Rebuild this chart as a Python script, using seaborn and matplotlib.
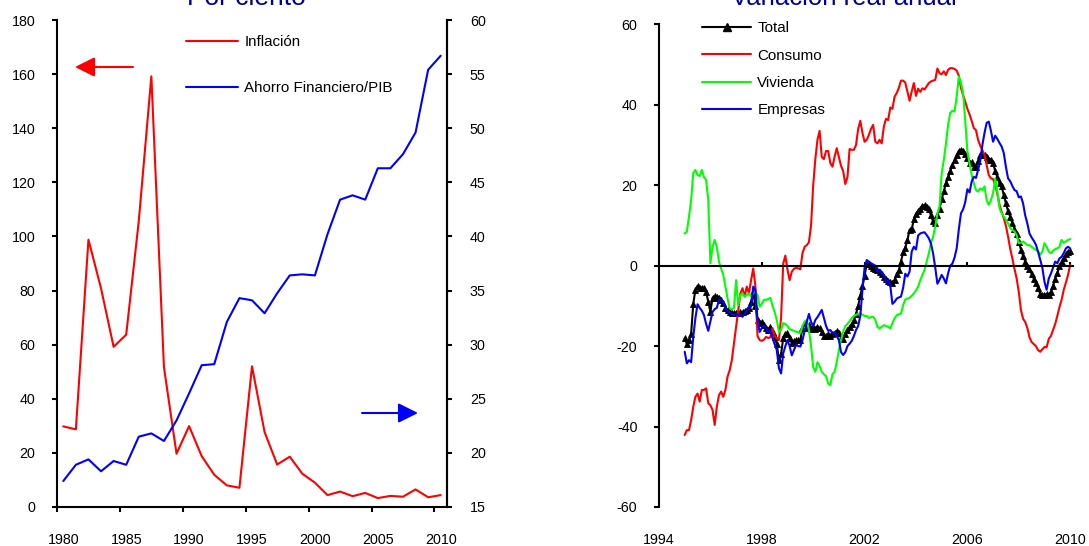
import numpy as np
import pandas as pd
import matplotlib
matplotlib.use("Agg")
import matplotlib.pyplot as plt
from matplotlib.lines import Line2D
from matplotlib.patches import ArrowStyle
import seaborn as sns

# ---------------- data: left panel (annual) ----------------
years = list(range(1980, 2011))
inflacion = [29.8, 28.7, 98.8, 80.8, 59.2, 63.7, 105.7, 159.2, 51.7, 19.7,
             29.9, 18.8, 11.9, 8.0, 7.1, 52.0, 27.7, 15.7, 18.6, 12.3,
             9.0, 4.4, 5.7, 4.0, 5.2, 3.3, 4.1, 3.8, 6.5, 3.6, 4.4]
ahorro_pib = [17.4, 18.9, 19.4, 18.3, 19.25, 18.9, 21.5, 21.8, 21.1, 23.0,
              25.5, 28.1, 28.2, 32.1, 34.3, 34.1, 32.9, 34.75, 36.4, 36.5,
              36.4, 40.2, 43.4, 43.8, 43.4, 46.3, 46.3, 47.6, 49.6, 55.4, 56.7]

# ---------------- data: right panel (monthly, Jan 1995 - Jan 2010) ----------------
start_year = 1995
total = [
    -18, -19.5, -18.5, -17, -9.5, -6, -5, -5.5, -5.5, -5.5, -6.5, -9,
    -11.5, -8, -7.5, -7.7, -8, -8.5, -9.4, -10.5, -11, -11.5, -11.8, -11.8,
    -11.8, -11.8, -11.5, -11.5, -11.3, -11, -10.5, -9, -6.5, -10, -13.5, -14.3,
    -14, -14.8, -15.5, -16, -15.2, -16.5, -17.7, -19.5, -23.5, -22, -18, -17,
    -16.8, -18, -19.3, -18.8, -18.5, -18.5, -18.5, -15.5, -14.3, -15.5, -14.8, -15.8,
    -15.3, -15.8, -15.2, -15.5, -16.5, -17.5, -17.5, -17, -17.5, -17, -16.8, -16.3,
    -16.8, -18, -18.2, -17, -16, -15.2, -14.5, -13.5, -12, -10, -7.5, -5,
    -2.5, 0.5, 0.3, 0, -0.5, -0.8, -1.1, -1.6, -2.2, -2.7, -3.2, -3.8,
    -4, -4.3, -3.5, -2, -1.2, 1, 3.3, 4.5, 6.4, 8.9, 9, 11.5,
    12.8, 13.5, 14.2, 14.9, 15, 14.5, 14, 12.5, 11, 10.5, 12.5, 14.2,
    16.5, 18.5, 20.5, 22, 23.5, 25, 26.3, 27.5, 28.5, 28.8, 28.5, 27.8,
    26.8, 25.5, 25.8, 24.5, 24.5, 26, 27.5, 28, 27.5, 27, 26.3, 26.3,
    25.5, 23.5, 22, 20.5, 19.7, 17.5, 15.5, 13.5, 12.2, 10.5, 9.2, 7.8,
    6, 4, 2.5, 1, 0, -0.9, -2, -3.2, -4.2, -5.5, -7, -7.3,
    -7.3, -7, -7.3, -6.5, -5, -3.2, -1.8, -0.2, 1, 2, 2.8, 3.5,
    3.7]
consumo = [
    -42.1, -40.9, -40.9, -38.4, -35.1, -32.6, -31.8, -33.8, -30.9, -30.9, -30.5, -34.2,
    -34.7, -35.9, -39.6, -35.1, -32.2, -31.3, -32.6, -30.9, -27.6, -26, -23.5, -19.3,
    -15.2, -11, -6.9, -5.6, -7.7, -5.2, -6.9, -3.6, -0.7, -5, -17.5, -18.5,
    -18.7, -18.4, -17.7, -18, -17.8, -15.5, -17.5, -18, -18.5, -13, 0.5, 2.5,
    -1, -3.6, -1.5, -0.8, -0.5, -0.7, -0.9, 3.1, 4.7, 5.1, 5.8, 10,
    20, 26.5, 31.3, 33.5, 27, 26.5, 28.5, 28.5, 25.5, 24.6, 27.1, 29.2,
    27, 24.8, 23.5, 20.3, 22, 29, 28.8, 28.8, 30, 34, 36, 33,
    30.8, 31.3, 32.5, 34, 35, 30.8, 30.4, 31.3, 30.4, 34.6, 36.5, 36.2,
    39.3, 39, 42, 42.9, 44.2, 46, 46, 45.5, 43.3, 41, 43.3, 45.4,
    42.2, 44, 43.2, 44.1, 43.8, 44.6, 45.4, 45.8, 46, 46.2, 49, 47.8,
    47.6, 48.3, 47.4, 48.7, 49.1, 49.1, 48.9, 48.5, 47.2, 44.2, 42.4, 40.8,
    39, 37.6, 36, 34.2, 33.7, 31.3, 29.8, 28.7, 27.5, 25, 22.5, 21.7,
    21.5, 20, 17.8, 15.2, 13.4, 11.8, 9.9, 7.2, 4.2, 1.8, -0.8, -3.2,
    -6.5, -11, -13.2, -14, -15.5, -17.8, -19, -19.5, -20, -21, -21.4, -20.8,
    -20.2, -20.3, -18.2, -17.5, -16, -14.5, -12.5, -10.3, -8.5, -6, -4.2, -2.3,
    0.2]
vivienda = [
    8.0, 8.5, 12.2, 16.3, 23, 23.8, 22.5, 22.3, 23.8, 22, 21.3, 16.3,
    0.6, 4.7, 6.4, 4.7, 1, -0.7, -2.3, -5.2, -8.1, -10.6, -10.9, -10.5,
    -3.6, -9.8, -7.3, -6.9, -7.7, -7.3, -6.9, -7.7, -6.9, -6.5, -7.3, -10.2,
    -9.5, -8.5, -8.5, -8.3, -8, -10, -11.5, -13.5, -16.5, -16, -14.3, -14.5,
    -15, -15.8, -16, -16.2, -16.4, -16.6, -16.8, -15, -13.9, -13.5, -16, -20,
    -25.2, -26.4, -24, -25, -26.4, -27, -27.5, -29.3, -29.7, -27, -26.4, -24,
    -21, -18.5, -16.4, -15, -14.5, -13.8, -13.1, -12.5, -12.2, -12, -11.9, -12.2,
    -12.5, -12.5, -13, -12.8, -12.7, -13.5, -15.2, -15.6, -15.2, -14.8, -15, -15.2,
    -15.6, -14.3, -13.1, -12.3, -12.1, -11.9, -9.8, -8.4, -8.2, -8, -7.5, -6.9,
    -6.2, -5.2, -3.6, -2.3, -1.1, 1, 3.1, 5.6, 7.2, 9.7, 13, 14.7,
    23, 26.3, 30.4, 35, 38, 38.5, 38.3, 42, 47, 45.5, 42.9, 36,
    28.5, 25.5, 22.5, 20.5, 18.8, 18.4, 19.2, 18.8, 19.7, 16.3, 15.1, 16.3,
    18, 21.7, 18.4, 14.3, 13, 12.2, 11.4, 10.5, 9.3, 8.9, 8.5, 7.6,
    5.6, 5.7, 6, 5.6, 5.1, 5.1, 4.7, 4.3, 3.9, 3.5, 2.7, 3.5,
    5.6, 4.7, 3.5, 3.1, 3.7, 4.1, 4.3, 4.7, 6.4, 5.7, 6, 6.4,
    6.6]
empresas = [
    -21.4, -24.3, -23.5, -24, -17.7, -13, -9.6, -10.5, -11.2, -12.3, -14.5, -16.2,
    -13.8, -11.5, -10.8, -10.5, -8.5, -8.4, -9, -10.5, -11.4, -11.6, -12, -12.3,
    -12, -12.3, -12.4, -12.7, -12, -11.2, -10.2, -10.2, -5.2, -6, -13.5, -16.5,
    -15.5, -15, -15.5, -16.5, -16.2, -18, -19.5, -21, -25.5, -26.8, -21.8, -20,
    -18.5, -20, -22.3, -21, -19.7, -20, -20.1, -18.5, -16.2, -14, -12, -14,
    -15, -13.5, -12.8, -11.9, -11, -13, -15, -16.2, -16, -16.8, -16.5, -17.5,
    -18.5, -21.5, -22.2, -21.5, -20, -19.4, -18.7, -17.5, -16, -15, -12.5, -6,
    -0.5, 1.4, 1.0, 0.6, 0.3, 0, -1.5, -1, -1.8, -2.5, -4, -3.6,
    -5, -9.5, -9, -8.2, -7.9, -7.7, -5.5, -2, -2.7, -1.5, 3.5, 4.7,
    4, 7.5, 8, 8.2, 8.3, 7.6, 6.8, 5.5, 3, -0.5, -4.5, -3.5,
    -2.3, -3.2, -4.4, -1.9, 0, 0.5, 2, 4.3, 9, 13, 14, 15.8,
    19, 18.2, 20.9, 22.1, 21.8, 23.8, 26, 30, 33, 35.5, 35.8, 33.5,
    30.8, 32.3, 31.5, 30.5, 29.6, 28, 24.5, 21.7, 21, 19.8, 18.8, 18.5,
    17, 17.2, 15.5, 12.5, 10.5, 8, 7, 6.2, 5.2, 3.5, 1.5, -0.5,
    -4, -6, -3.2, -2, -0.5, 1, 0.6, 1.8, 2.2, 3.1, 4.3, 4.7,
    4.3]

right_years = [1994, 1998, 2002, 2006, 2010]
left_yticks = list(range(0, 181, 20))
right_axis_ticks = list(range(15, 61, 5))
panel2_yticks = list(range(-60, 61, 20))

# ---------------- styling ----------------
sns.set_theme(style="white")
plt.rcParams["font.family"] = ["Liberation Sans", "DejaVu Sans"]
plt.rcParams["font.size"] = 10
plt.rcParams["axes.unicode_minus"] = False
plt.rcParams["text.color"] = "black"
plt.rcParams["xtick.color"] = "black"
plt.rcParams["ytick.color"] = "black"
plt.rcParams["xtick.labelcolor"] = "black"
plt.rcParams["ytick.labelcolor"] = "black"

W, H = 1089, 546
fig = plt.figure(figsize=(W / 100, H / 100), dpi=100)

def fx(px):
    return px / W

def fy(py):
    return 1 - py / H

RED, BLUE, GREEN = "#FF0000", "#0000FF", "#00FF00"
TITLE_C = "#000099"
LW = 1.5
TICK_FS = 10.3
LEG_FS = 10.9

# ================= left panel =================
ax1 = fig.add_axes([fx(57), fy(507), fx(447) - fx(57), fy(20) - fy(507)])
ax1b = ax1.twinx()

df_left = pd.DataFrame({"year": years, "inf": inflacion, "ah": ahorro_pib})
sns.lineplot(data=df_left, x="year", y="inf", ax=ax1, color=RED, lw=LW, legend=False)
sns.lineplot(data=df_left, x="year", y="ah", ax=ax1b, color=BLUE, lw=LW, legend=False)

ax1.set_xlim(1979.5, 2010.5)
ax1.set_ylim(0, 180)
ax1b.set_ylim(15, 60)
ax1.set_xlabel("")
ax1.set_ylabel("")
ax1b.set_ylabel("")

ax1.set_yticks(left_yticks)
ax1b.set_yticks(right_axis_ticks)
ax1.set_xticks(years[::5])
ax1.set_xticks(np.arange(1979.5, 2010.6, 5), minor=True)
ax1.tick_params(axis="x", which="major", length=0, pad=19, labelsize=TICK_FS, bottom=True)
ax1.tick_params(axis="x", which="minor", length=3.5, width=1.5, direction="out", bottom=True)
ax1.tick_params(axis="y", length=3.5, width=1.5, direction="out", pad=12, labelsize=TICK_FS, left=True)
ax1b.tick_params(axis="y", length=3.5, width=1.5, direction="out", pad=13, labelsize=TICK_FS, right=True)

for a in (ax1, ax1b):
    a.spines["top"].set_visible(False)
    for s in ("left", "right", "bottom"):
        a.spines[s].set_linewidth(1.5)
        a.spines[s].set_color("black")
    a.set_facecolor("none")
    a.grid(False)
ax1b.spines["left"].set_visible(False)
ax1b.spines["bottom"].set_visible(False)

h_left = [Line2D([], [], color=RED, lw=LW), Line2D([], [], color=BLUE, lw=LW)]
ax1b.legend(h_left, ["Inflación", "Ahorro Financiero/PIB"], loc="upper left",
            bbox_to_anchor=(fx(186), fy(35.5)), bbox_transform=fig.transFigure,
            frameon=False, borderpad=0, borderaxespad=0, handlelength=3.45,
            handletextpad=0.4, labelspacing=2.11, fontsize=LEG_FS)

arrow = ArrowStyle("-|>", head_length=0.6, head_width=0.3)
ax1.annotate("", xy=(fx(75), fy(67)), xytext=(fx(133), fy(67)),
             xycoords="figure fraction", textcoords="figure fraction",
             arrowprops=dict(arrowstyle=arrow, color=RED, lw=1.5,
                             mutation_scale=20, shrinkA=0, shrinkB=0))
ax1.annotate("", xy=(fx(418), fy(413)), xytext=(fx(362), fy(413)),
             xycoords="figure fraction", textcoords="figure fraction",
             arrowprops=dict(arrowstyle=arrow, color=BLUE, lw=1.5,
                             mutation_scale=20, shrinkA=0, shrinkB=0))

fig.text(fx(246.5), fy(5), "Por ciento", ha="center", va="baseline",
         fontsize=19, color=TITLE_C)

# ================= right panel =================
ax2 = fig.add_axes([fx(659), fy(507), fx(1073) - fx(659), fy(24.3) - fy(507)])
t = start_year + np.arange(len(total)) / 12.0
df_right = pd.DataFrame({"t": t, "Total": total, "Consumo": consumo,
                         "Vivienda": vivienda, "Empresas": empresas})

sns.lineplot(data=df_right, x="t", y="Total", ax=ax2, color="black", lw=LW,
             marker="^", markersize=5, markeredgecolor="black", markeredgewidth=0.6,
             legend=False, sort=False)
sns.lineplot(data=df_right, x="t", y="Consumo", ax=ax2, color=RED, lw=LW, legend=False, sort=False)
sns.lineplot(data=df_right, x="t", y="Vivienda", ax=ax2, color=GREEN, lw=LW, legend=False, sort=False)
sns.lineplot(data=df_right, x="t", y="Empresas", ax=ax2, color=BLUE, lw=LW, legend=False, sort=False)

ax2.set_xlim(1994, 2010.11)
ax2.set_ylim(-60, 60)
ax2.set_xlabel("")
ax2.set_ylabel("")
ax2.set_yticks(panel2_yticks)
ax2.set_xticks(right_years)
ax2.spines["top"].set_visible(False)
ax2.spines["right"].set_visible(False)
ax2.spines["bottom"].set_position(("data", 0))
for s in ("left", "bottom"):
    ax2.spines[s].set_linewidth(1.5)
    ax2.spines[s].set_color("black")
ax2.tick_params(axis="x", length=3, width=1.5, direction="in", labelbottom=False, bottom=True)
ax2.tick_params(axis="y", length=3.5, width=1.5, direction="out", pad=12, labelsize=TICK_FS, left=True)
ax2.set_facecolor("none")
ax2.grid(False)

sec = ax2.secondary_xaxis("bottom")
sec.set_xticks(right_years)
sec.tick_params(axis="x", length=0, pad=19, labelsize=TICK_FS)
sec.spines["bottom"].set_visible(False)

h_right = [Line2D([], [], color="black", lw=LW, marker="^", markersize=6),
           Line2D([], [], color=RED, lw=LW),
           Line2D([], [], color=GREEN, lw=LW),
           Line2D([], [], color=BLUE, lw=LW)]
ax2.legend(h_right, ["Total", "Consumo", "Vivienda", "Empresas"], loc="upper left",
           bbox_to_anchor=(fx(702), fy(21.5)), bbox_transform=fig.transFigure,
           frameon=False, borderpad=0, borderaxespad=0, handlelength=3.25,
           handletextpad=0.4, labelspacing=0.87, fontsize=LEG_FS, numpoints=1)

fig.text(fx(843.5), fy(5), "Variación real anual", ha="center", va="baseline",
         fontsize=18.5, color=TITLE_C)

fig.savefig("out.png", dpi=100)
